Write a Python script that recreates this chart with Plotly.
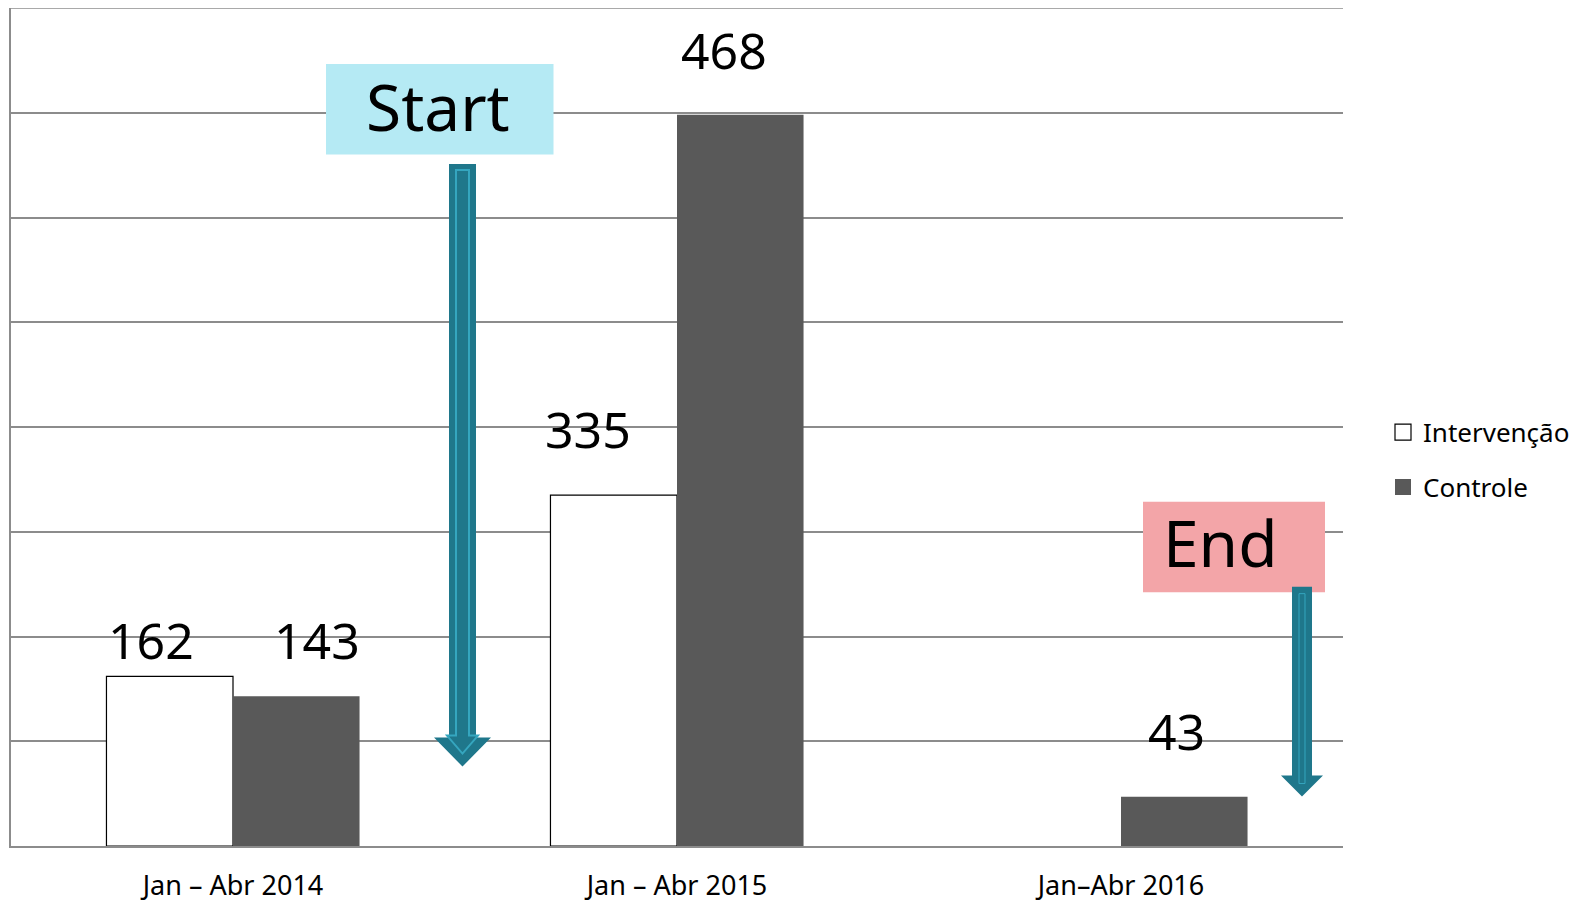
import plotly.graph_objects as go

# ---- data ----
categories = ["Jan – Abr 2014", "Jan – Abr 2015", "Jan–Abr 2016"]
intervencao = [162, 335, None]          # bar heights as drawn
controle = [143, 698, 47]               # bar heights as drawn
intervencao_labels = ["162", "335", None]
controle_labels = ["143", "468", "43"]
series_names = ["Intervenção", "Controle"]

W, H = 1584, 903
L, R, T, B = 11, 241, 8, 56.5
PW, PH = W - L - R, H - T - B


def px(x):
    return (x - L) / PW


def py(y):
    return (H - B - y) / PH


def path(points):
    s = "M" + " L".join(f"{px(x):.5f},{py(y):.5f}" for x, y in points) + " Z"
    return s


fig = go.Figure()
fig.add_trace(go.Bar(x=categories, y=intervencao, name=series_names[0],
                     marker=dict(color="white", line=dict(color="black", width=1.2)),
                     showlegend=False))
fig.add_trace(go.Bar(x=categories, y=controle, name=series_names[1],
                     marker=dict(color="#595959", line=dict(width=0)),
                     showlegend=False))
# legend proxies
fig.add_trace(go.Scatter(x=[None], y=[None], mode="markers", name=series_names[0],
                         marker=dict(symbol="square", size=16, color="white",
                                     line=dict(color="black", width=1.2)),
                         legendgroup="a"))
fig.add_trace(go.Scatter(x=[None], y=[None], mode="markers", name=series_names[1],
                         marker=dict(symbol="square", size=16, color="#595959",
                                     line=dict(width=0)),
                         legendgroup="b"))

lab_font = dict(family="Noto Sans", size=50, color="black")
annotations = []
shifts_i = [(-82, 36), (-89, 66), None]
shifts_c = [(84, 56), (47, 65), (55, 66)]
for i, c in enumerate(categories):
    if intervencao_labels[i] is not None:
        dx, dy = shifts_i[i]
        annotations.append(dict(x=c, y=intervencao[i], text=intervencao_labels[i],
                                showarrow=False, xshift=dx, yshift=dy, font=lab_font,
                                xanchor="center", yanchor="middle"))
    if controle_labels[i] is not None:
        dx, dy = shifts_c[i]
        annotations.append(dict(x=c, y=controle[i], text=controle_labels[i],
                                showarrow=False, xshift=dx, yshift=dy, font=lab_font,
                                xanchor="center", yanchor="middle"))

annotations.append(dict(xref="paper", yref="paper", x=px(438), y=py(107), text="Start",
                        showarrow=False, font=dict(family="Noto Sans", size=64, color="black"),
                        xanchor="center", yanchor="middle"))
annotations.append(dict(xref="paper", yref="paper", x=px(1161), y=py(543), text="End",
                        showarrow=False, font=dict(family="Noto Sans", size=64, color="black"),
                        xanchor="left", yanchor="middle"))

dark = "#1F778B"
light = "#35A6BF"
shapes = [
    dict(type="line", xref="paper", yref="y", x0=0, x1=1, y0=800, y1=800,
         line=dict(color="#8C8C8C", width=1.5), layer="below"),
    dict(type="rect", xref="paper", yref="paper", x0=px(326), x1=px(553.5), y0=py(154.5), y1=py(64),
         fillcolor="#B5EAF4", line=dict(width=0), layer="above"),
    dict(type="rect", xref="paper", yref="paper", x0=px(1143), x1=px(1325), y0=py(592.5), y1=py(502),
         fillcolor="#F3A5A8", line=dict(width=0), layer="above"),
    dict(type="path", xref="paper", yref="paper",
         path=path([(449, 164), (476, 164), (476, 738), (491, 738), (462.5, 767), (434, 738), (449, 738)]),
         fillcolor=dark, line=dict(width=0), layer="above"),
    dict(type="path", xref="paper", yref="paper",
         path=path([(456, 170), (469, 170), (469, 736), (478, 736), (462.5, 754), (447, 736), (456, 736)]),
         fillcolor="rgba(0,0,0,0)", line=dict(color=light, width=2), layer="above"),
    dict(type="path", xref="paper", yref="paper",
         path=path([(1292, 587), (1312, 587), (1312, 776), (1323, 776), (1302, 797), (1281, 776), (1292, 776)]),
         fillcolor=dark, line=dict(width=0), layer="above"),
    dict(type="path", xref="paper", yref="paper",
         path=path([(1299, 594), (1305, 594), (1305, 784), (1299, 784)]),
         fillcolor="rgba(0,0,0,0)", line=dict(color=light, width=1), layer="above"),
]

fig.update_layout(
    width=W, height=H, autosize=False,
    margin=dict(l=L, r=R, t=T, b=B, pad=0, autoexpand=False),
    paper_bgcolor="white", plot_bgcolor="white",
    barmode="group", bargap=0.43, bargroupgap=0,
    font=dict(family="Noto Sans", color="black"),
    annotations=annotations, shapes=shapes,
    legend=dict(x=px(1383), y=py(409), xanchor="left", yanchor="top",
                font=dict(family="Noto Sans", size=26, color="black"),
                tracegroupgap=18, traceorder="grouped", bgcolor="rgba(0,0,0,0)"),
    showlegend=True,
)
fig.update_xaxes(showline=True, linecolor="#8C8C8C", linewidth=1.5, showgrid=False,
                 ticks="", tickfont=dict(family="Noto Sans", size=27, color="black"),
                 ticklabelstandoff=15, zeroline=False, automargin=False)
fig.update_yaxes(range=[0, 800], dtick=100, showgrid=True, gridcolor="#8C8C8C", gridwidth=1.5,
                 showline=True, linecolor="#8C8C8C", linewidth=1.5, showticklabels=False,
                 ticks="", zeroline=False, automargin=False)

fig.write_html("out.html", config={"displayModeBar": False},
               post_script="document.body.style.margin='0';document.body.style.overflow='hidden';")
